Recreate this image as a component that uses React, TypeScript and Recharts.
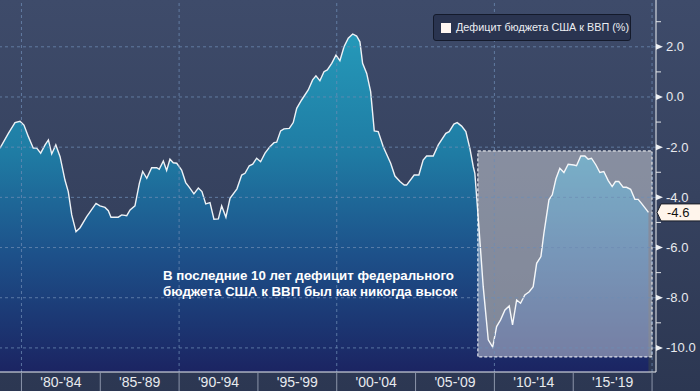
import React from 'react';
import { ComposedChart, Area, XAxis, YAxis, ReferenceLine, ReferenceArea, Legend } from 'recharts';

// decimal year of each observation
const years = [
  1978.64, 1979.17, 1979.59, 1979.91, 1980.16, 1980.44, 1980.75, 1980.97, 1981.22, 1981.5,
  1981.71, 1981.92, 1982.18, 1982.45, 1982.76, 1982.97, 1983.19, 1983.46, 1983.72, 1984.14,
  1984.73, 1984.98, 1985.3, 1985.51, 1985.68, 1986.14, 1986.36, 1986.68, 1986.89, 1987.2,
  1987.48, 1987.69, 1987.95, 1988.26, 1988.58, 1988.74, 1989.0, 1989.21, 1989.42, 1989.63,
  1989.85, 1990.16, 1990.42, 1990.65, 1990.94, 1991.22, 1991.45, 1991.69, 1991.96, 1992.21,
  1992.49, 1992.7, 1992.97, 1993.23, 1993.67, 1993.97, 1994.18, 1994.45, 1994.67, 1994.92,
  1995.17, 1995.45, 1995.76, 1996.02, 1996.19, 1996.44, 1996.65, 1996.99, 1997.24, 1997.46,
  1997.77, 1998.19, 1998.47, 1998.68, 1998.93, 1999.19, 1999.4, 1999.68, 1999.95, 2000.2,
  2000.46, 2000.73, 2001.01, 2001.26, 2001.47, 2001.64, 2001.9, 2002.15, 2002.38, 2002.63,
  2002.95, 2003.42, 2003.69, 2004.01, 2004.28, 2004.43, 2004.91, 2005.21, 2005.48, 2005.7,
  2006.12, 2006.44, 2006.92, 2007.13, 2007.43, 2007.64, 2007.92, 2008.19, 2008.45, 2008.66,
  2008.76, 2008.99, 2009.29, 2009.61, 2009.89, 2010.14, 2010.39, 2010.67, 2010.94, 2011.15,
  2011.41, 2011.66, 2011.93, 2012.21, 2012.46, 2012.68, 2012.95, 2013.14, 2013.46, 2013.67,
  2013.9, 2014.15, 2014.41, 2014.68, 2015.04, 2015.21, 2015.48, 2015.74, 2015.95, 2016.16,
  2016.44, 2016.69, 2016.94, 2017.22, 2017.47, 2017.68, 2017.89, 2018.17, 2018.38, 2018.64,
  2018.91, 2019.12, 2019.33, 2019.65, 2019.77,
];

// US budget balance, % of GDP
const deficit = [
  -2.04, -1.45, -1.02, -0.97, -1.12, -1.58, -2.04, -2.04, -2.24, -1.91,
  -1.71, -2.27, -1.91, -2.38, -3.31, -3.77, -4.7, -5.37, -5.21, -4.77,
  -4.24, -4.34, -4.4, -4.53, -4.79, -4.79, -4.7, -4.73, -4.5, -4.34,
  -3.44, -2.97, -3.24, -2.82, -2.82, -2.88, -2.55, -2.93, -2.48, -2.62,
  -2.64, -2.91, -3.41, -3.6, -3.86, -3.63, -3.77, -4.26, -4.21, -4.87,
  -4.86, -4.34, -4.79, -4.04, -3.66, -3.11, -3.04, -2.74, -2.68, -2.44,
  -2.58, -2.24, -1.98, -1.82, -1.8, -1.35, -1.27, -1.25, -1.02, -0.45,
  -0.12, 0.28, 0.68, 0.84, 0.65, 1.01, 1.08, 1.34, 1.67, 1.45,
  2.0, 2.34, 2.51, 2.43, 2.2, 1.34, 0.94, 0.21, -1.35, -1.38,
  -1.98, -2.64, -3.15, -3.37, -3.51, -3.51, -3.11, -3.11, -2.51, -2.35,
  -2.35, -1.91, -1.45, -1.38, -1.08, -1.02, -1.16, -1.38, -2.07, -2.78,
  -3.04, -4.95, -7.56, -9.68, -9.97, -9.15, -8.88, -8.49, -8.33, -9.08,
  -8.09, -8.22, -7.89, -7.76, -7.56, -6.63, -6.36, -5.43, -4.1, -3.9,
  -3.27, -2.84, -3.01, -2.68, -2.71, -2.74, -2.35, -2.35, -2.48, -2.44,
  -2.71, -3.01, -2.97, -3.33, -3.57, -3.37, -3.37, -3.6, -3.6, -3.68,
  -4.08, -4.08, -4.24, -4.5, -4.6,
];

const bandStarts = [1980, 1985, 1990, 1995, 2000, 2005, 2010, 2015, 2020];
const bandLabels = ["'80-'84", "'85-'89", "'90-'94", "'95-'99", "'00-'04", "'05-'09", "'10-'14", "'15-'19"];
const decadeLines = [1980, 1990, 2000, 2010, 2020];
const yTickValues = [3, 2, 1, 0, -1, -2, -3, -4, -5, -6, -7, -8, -9, -10];
const majorTicks = [2, 0, -2, -4, -6, -8, -10];
const highlight = { x1: 2008.95, x2: 2020, y1: -10.36, y2: -2.15 };
const seriesName = 'Дефицит бюджета США к ВВП (%)';
const annotation = ['В последние 10 лет дефицит федерального', 'бюджета США к ВВП был как никогда высок'];

const LAST = deficit[deficit.length - 1];
const data = years.map((t, i) => ({ t, v: deficit[i] }));

const W = 700;
const H = 391;
const AXIS_W = 44;
const XAXIS_H = 19;
const X_MIN = 1978.64;
const X_MAX = 2020.25;
const Y_MIN = -10.96;
const Y_MAX = 3.865;
const PX_PER_YEAR = (W - AXIS_W) / (X_MAX - X_MIN);
const FONT = '"Liberation Sans", Arial, sans-serif';
const GRID = 'rgba(110,140,180,0.75)';

const XTick = (props: any) => {
  const { x, y, payload } = props;
  const idx = bandStarts.indexOf(payload.value);
  const label = bandLabels[idx];
  return (
    <g>
      <line x1={x} y1={y} x2={x} y2={y + XAXIS_H} stroke="#8c95aa" strokeWidth={1} />
      {label && (
        <text
          x={x + 2.5 * PX_PER_YEAR}
          y={y + 14.5}
          textAnchor="middle"
          fill="#e8eaee"
          fontSize={14}
          fontFamily={FONT}
        >
          {label}
        </text>
      )}
    </g>
  );
};

const YTick = (props: any) => {
  const { x, y, payload } = props;
  const v = payload.value;
  if (v === LAST) {
    return (
      <g>
        <polygon
          points={`${x + 1},${y} ${x + 5},${y - 8.5} ${W + 2},${y - 8.5} ${W + 2},${y + 8.5} ${x + 5},${y + 8.5}`}
          fill="#fff5ec"
          stroke="#1a1d26"
          strokeWidth={1}
        />
        <text x={x + 11} y={y} dy={4.5} fill="#111" fontSize={13} fontFamily={FONT}>
          {v.toFixed(1)}
        </text>
      </g>
    );
  }
  if (majorTicks.includes(v)) {
    return (
      <g>
        <polygon points={`${x},${y - 3} ${x + 7},${y} ${x},${y + 3}`} fill="#eef0f3" />
        <text x={x + 10} y={y} dy={4.5} fill="#e8eaee" fontSize={13} fontFamily={FONT}>
          {v.toFixed(1)}
        </text>
      </g>
    );
  }
  return <line x1={x} y1={y} x2={x + 5} y2={y} stroke="#e4e6ea" strokeWidth={1} />;
};

const LegendBox = () => (
  <div
    style={{
      position: 'relative',
      width: 198,
      height: 27,
      boxSizing: 'border-box',
      background: '#2a3450',
      border: '1px solid #141a2b',
      borderRadius: 3,
      fontFamily: FONT,
      fontSize: 10.8,
      color: '#eceef2',
      whiteSpace: 'nowrap',
    }}
  >
    <svg width={10} height={10} style={{ position: 'absolute', left: 7, top: 7.5 }}>
      <rect x={0} y={0} width={10} height={10} fill="#fff6f2" />
    </svg>
    <span style={{ position: 'absolute', left: 22, top: 6, lineHeight: '13px' }}>{seriesName}</span>
  </div>
);

export default function App() {
  return (
    <div
      style={{
        position: 'absolute',
        left: 0,
        top: 0,
        width: W,
        height: H,
        background: 'linear-gradient(180deg, #3e4b6a 0%, #36425f 50%, #2c3752 100%)',
        overflow: 'hidden',
      }}
    >
      <ComposedChart width={W} height={H} data={data} margin={{ top: 0, right: 0, bottom: 0, left: 0 }}>
        <defs>
          <linearGradient id="areaFill" x1="0" y1="0" x2="0" y2="1">
            <stop offset="0%" stopColor="#2599b9" />
            <stop offset="35%" stopColor="#1f7ca4" />
            <stop offset="65%" stopColor="#1d518a" />
            <stop offset="100%" stopColor="#1b2462" />
          </linearGradient>
        </defs>
        <XAxis
          dataKey="t"
          type="number"
          domain={[X_MIN, X_MAX]}
          allowDataOverflow
          ticks={bandStarts}
          interval={0}
          tickSize={0}
          tickMargin={0}
          height={XAXIS_H}
          axisLine={{ stroke: '#eef0f3', strokeWidth: 1 }}
          tickLine={false}
          tick={<XTick />}
        />
        <YAxis
          orientation="right"
          type="number"
          domain={[Y_MIN, Y_MAX]}
          allowDataOverflow
          ticks={[...yTickValues, LAST]}
          interval={0}
          width={AXIS_W}
          tickSize={0}
          tickMargin={0}
          axisLine={{ stroke: '#eef0f3', strokeWidth: 1 }}
          tickLine={false}
          tick={<YTick />}
        />
        <Area
          type="linear"
          dataKey="v"
          name={seriesName}
          baseValue={Y_MIN}
          stroke="#eef2f6"
          strokeWidth={1.4}
          fill="url(#areaFill)"
          fillOpacity={1}
          isAnimationActive={false}
          dot={false}
          activeDot={false}
        />
        {majorTicks.map((v) => (
          <ReferenceLine key={'h' + v} y={v} stroke={GRID} strokeDasharray="3 3" strokeWidth={1} />
        ))}
        {decadeLines.map((t) => (
          <ReferenceLine key={'v' + t} x={t} stroke={GRID} strokeDasharray="3 3" strokeWidth={1} />
        ))}
        <ReferenceArea
          x1={highlight.x1}
          x2={highlight.x2}
          y1={highlight.y1}
          y2={highlight.y2}
          fill="#ffffff"
          fillOpacity={0.4}
          stroke="#ffffff"
          strokeDasharray="3 2"
          strokeWidth={1}
        />
        <Legend
          layout="vertical"
          align="center"
          verticalAlign="middle"
          content={<LegendBox />}
          wrapperStyle={{ left: 433, top: 14, width: 198, height: 27 }}
        />
      </ComposedChart>
      <div
        style={{
          position: 'absolute',
          left: 163,
          top: 268,
          fontFamily: FONT,
          fontWeight: 'bold',
          fontSize: 13.3,
          lineHeight: '16px',
          color: '#ffffff',
          whiteSpace: 'nowrap',
        }}
      >
        <div>{annotation[0]}</div>
        <div>{annotation[1]}</div>
      </div>
    </div>
  );
}
